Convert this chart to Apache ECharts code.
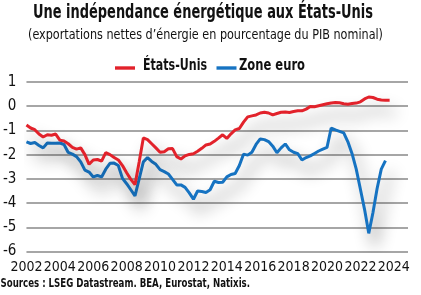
<!DOCTYPE html>
<html><head><meta charset="utf-8">
<script src="https://cdn.jsdelivr.net/npm/echarts@6/dist/echarts.min.js"></script>
<style>html,body{margin:0;padding:0;background:#fff}#c{width:421px;height:295px}</style>
</head><body><div id="c"></div>
<script>
const startYear = 2002;
const yearLabels = [2002,2004,2006,2008,2010,2012,2014,2016,2018,2020,2022,2024];
const seriesNames = ['États-Unis','Zone euro'];
const titleText = 'Une indépendance énergétique aux États-Unis';
const subtitleText = '(exportations nettes d\u2019énergie en pourcentage du PIB nominal)';
const sourceText = 'Sources : LSEG Datastream. BEA, Eurostat, Natixis.';
const usValues = [-0.78,-0.90,-0.97,-1.15,-1.27,-1.18,-1.20,-1.15,-1.40,-1.44,
-1.55,-1.70,-1.77,-1.72,-2.00,-2.40,-2.22,-2.20,-2.27,-1.92,
-2.00,-2.12,-2.22,-2.45,-2.75,-3.02,-3.24,-2.30,-1.31,-1.38,
-1.55,-1.72,-1.90,-1.88,-1.76,-1.75,-2.08,-2.18,-2.05,-1.99,
-1.96,-1.86,-1.74,-1.60,-1.56,-1.45,-1.32,-1.18,-1.33,-1.14,
-0.98,-0.92,-0.66,-0.44,-0.40,-0.36,-0.28,-0.25,-0.28,-0.36,
-0.30,-0.25,-0.24,-0.26,-0.22,-0.19,-0.19,-0.12,-0.01,-0.02,
0.02,0.06,0.10,0.13,0.15,0.14,0.10,0.08,0.11,0.13,
0.18,0.30,0.38,0.36,0.29,0.26,0.25,0.25];
const euroValues = [-1.47,-1.54,-1.50,-1.62,-1.72,-1.52,-1.53,-1.53,-1.52,-1.58,
-1.91,-1.98,-2.08,-2.30,-2.64,-2.72,-2.92,-2.86,-2.92,-2.60,
-2.36,-2.35,-2.45,-2.98,-3.20,-3.45,-3.70,-3.00,-2.30,-2.12,
-2.28,-2.40,-2.62,-2.70,-2.80,-3.02,-3.25,-3.25,-3.35,-3.58,
-3.84,-3.50,-3.52,-3.56,-3.45,-3.10,-3.15,-3.14,-2.92,-2.82,
-2.78,-2.45,-1.98,-2.02,-1.90,-1.58,-1.35,-1.38,-1.46,-1.65,
-1.92,-1.72,-1.56,-1.80,-1.90,-1.96,-2.22,-2.12,-2.05,-1.95,
-1.85,-1.77,-1.70,-0.90,-0.98,-1.04,-1.10,-1.47,-1.96,-2.60,
-3.43,-4.27,-5.25,-4.40,-3.40,-2.60,-2.25];
// quarter time stamps (categories)
const quarters = [];
for (let i = 0; i < usValues.length; i++) quarters.push(startYear + i * 0.25);

const FONT = "'DejaVu Sans Condensed','DejaVu Sans',sans-serif";
const RED = '#e2222b', BLUE = '#1673c2', INK = '#111';
const shadow = {shadowColor:'rgba(0,0,0,0.48)', shadowBlur:16, shadowOffsetX:6, shadowOffsetY:12};

const ctx = document.createElement('canvas').getContext('2d');
function measure(t, size, weight){ ctx.font = weight + ' ' + size + 'px ' + FONT; return ctx.measureText(t).width; }
// condensed text: fit text into target width [left, right]
function fitText(t, left, right, midY, size, weight){
  const w = measure(t, size, weight);
  return {type:'text', x:left, y:midY, scaleX:(right-left)/w, scaleY:1, silent:true,
    style:{text:t, fontFamily:FONT, fontSize:size, fontWeight:weight, fill:INK,
      align:'left', verticalAlign:'middle', textAlign:'left', textVerticalAlign:'middle'}};
}

const chart = echarts.init(document.getElementById('c'), null, {renderer:'canvas'});
chart.setOption({
  animation:false,
  backgroundColor:'#fff',
  graphic:[
    fitText(titleText, 33, 373, 12.5, 20, 'bold'),
    fitText(subtitleText, 28, 383, 35, 14, 'normal'),
    {type:'rect', shape:{x:115, y:66.3, width:20, height:3.4}, style:{fill:RED}, silent:true},
    fitText(seriesNames[0], 143, 207, 65.5, 16.5, 'bold'),
    {type:'rect', shape:{x:216.5, y:66.3, width:20, height:3.4}, style:{fill:BLUE}, silent:true},
    fitText(seriesNames[1], 239, 305, 65.5, 16.5, 'bold'),
    fitText(sourceText, 0.5, 250, 284, 12, 'bold')
  ],
  grid:{left:25, right:13, top:82, bottom:43.5, containLabel:false},
  xAxis:{type:'value', min:2002, max:2024.85,
    axisLine:{show:false}, axisTick:{show:false}, splitLine:{show:false},
    axisLabel:{customValues:yearLabels, fontFamily:FONT, fontSize:14, color:INK, margin:9,
      formatter:v=>String(Math.round(v))}},
  yAxis:{type:'value', min:-6, max:1, interval:1,
    axisLine:{show:false}, axisTick:{show:false},
    splitLine:{lineStyle:{color:'#a6a6a6', width:2}},
    axisLabel:{fontFamily:FONT, fontSize:15, color:INK, margin:10}},
  series:[
    {name:seriesNames[0], type:'line', showSymbol:false, symbol:'none', color:RED,
     lineStyle:Object.assign({width:3, color:RED}, shadow),
     data:usValues.map((v,i)=>[quarters[i], v]), z:3},
    {name:seriesNames[1], type:'line', showSymbol:false, symbol:'none', color:BLUE,
     lineStyle:Object.assign({width:3, color:BLUE}, shadow),
     data:euroValues.map((v,i)=>[quarters[i], v]), z:2}
  ]
});
</script></body></html>
